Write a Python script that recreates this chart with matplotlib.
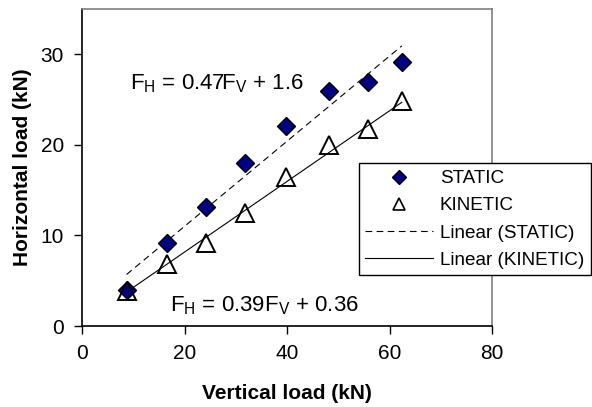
import matplotlib.pyplot as plt
import numpy as np

plt.rcParams['font.family'] = ['Liberation Sans', 'DejaVu Sans']
plt.rcParams['mathtext.fontset'] = 'custom'
plt.rcParams['mathtext.rm'] = 'Liberation Sans'

# data
static_x = [8.7, 16.5, 24.2, 31.9, 39.9, 48.1, 55.9, 62.4]
static_y = [4.0, 9.2, 13.1, 18.0, 22.1, 25.9, 26.9, 29.2]
kinetic_x = [8.7, 16.5, 24.2, 31.9, 39.9, 48.1, 55.9, 62.4]
kinetic_y = [3.9, 6.9, 9.2, 12.5, 16.5, 20.0, 21.7, 24.8]

static_fit = (0.47, 1.6)
kinetic_fit = (0.39, 0.36)

fig = plt.figure(figsize=(5.92, 4.07), dpi=100)
ax = fig.add_axes([82 / 592, 1 - 326 / 407, 410 / 592, 317 / 407])

fx = np.array([min(static_x), max(static_x)])
ax.plot(fx, static_fit[0] * fx + static_fit[1], color='black', lw=0.8,
        linestyle=(0, (6, 4)), label='Linear (STATIC)', zorder=2)
fx = np.array([min(kinetic_x), max(kinetic_x)])
ax.plot(fx, kinetic_fit[0] * fx + kinetic_fit[1], color='black', lw=0.8,
        linestyle='-', label='Linear (KINETIC)', zorder=2)

ax.plot(static_x, static_y, linestyle='none', marker='D', markersize=9.5,
        markerfacecolor='#000080', markeredgecolor='black', markeredgewidth=1.0,
        label='STATIC', zorder=3)
ax.plot(kinetic_x, kinetic_y, linestyle='none', marker='^', markersize=13.5,
        markerfacecolor='none', markeredgecolor='black', markeredgewidth=1.4,
        label='KINETIC', zorder=4)

ax.text(9.4, 26.8, r'F$_\mathregular{H}$ = 0.47F$_\mathregular{V}$ + 1.6',
        fontsize=16, va='center', ha='left')
ax.text(17.2, 2.2, r'F$_\mathregular{H}$ = 0.39F$_\mathregular{V}$ + 0.36',
        fontsize=16, va='center', ha='left')

ax.set_xlim(0, 80)
ax.set_ylim(0, 35)
ax.set_xticks([0, 20, 40, 60, 80])
ax.set_yticks([0, 10, 20, 30])
ax.tick_params(direction='out', length=6, width=1, labelsize=15, pad=7)
for s in ['left', 'bottom']:
    ax.spines[s].set_color('black')
    ax.spines[s].set_linewidth(1.2)
for s in ['top', 'right']:
    ax.spines[s].set_color('#808080')
    ax.spines[s].set_linewidth(1.2)

ax.set_xlabel('Vertical load (kN)', fontsize=15, fontweight='bold', labelpad=15)
ax.set_ylabel('Horizontal load (kN)', fontsize=15, fontweight='bold', labelpad=6)

h, l = ax.get_legend_handles_labels()
order = [2, 3, 0, 1]
leg = ax.legend([h[i] for i in order], [l[i] for i in order],
                loc='upper left', bbox_to_anchor=(358.7 / 592, 1 - 163.3 / 407),
                bbox_transform=fig.transFigure, fontsize=13.6, frameon=True,
                fancybox=False, shadow=False, framealpha=1, edgecolor='black',
                handlelength=3.6, handletextpad=0.35,
                labelspacing=0.53, borderpad=0.35, borderaxespad=0)
leg.get_frame().set_linewidth(1.0)
leg.legend_handles[0].set_markersize(7)
leg.legend_handles[1].set_markersize(8.5)
leg.legend_handles[1].set_markeredgewidth(1.2)

fig.savefig('out.png', dpi=100)
